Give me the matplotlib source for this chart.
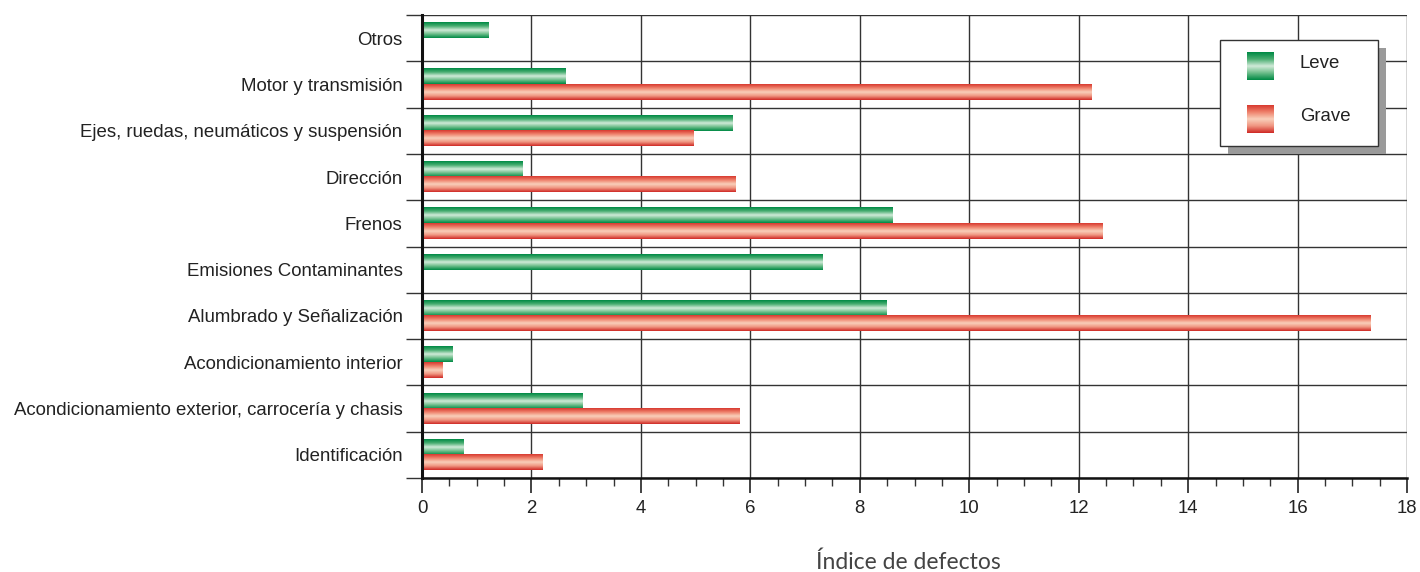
# Índice de defectos por categoría (leve / grave)

import matplotlib.pyplot as plt
import numpy as np
from matplotlib.colors import LinearSegmentedColormap
from matplotlib.patches import Rectangle

categorias = ['Otros', 'Motor y transmisión', 'Ejes, ruedas, neumáticos y suspensión',
              'Dirección', 'Frenos', 'Emisiones Contaminantes', 'Alumbrado y Señalización',
              'Acondicionamiento interior', 'Acondicionamiento exterior, carrocería y chasis',
              'Identificación']
leve = [1.22, 2.63, 5.67, 1.83, 8.59, 7.31, 8.48, 0.55, 2.94, 0.75]
grave = [0, 12.23, 4.97, 5.72, 12.43, 0, 17.33, 0.37, 5.80, 2.21]
series_labels = ['Leve', 'Grave']

plt.rcParams['font.family'] = ['Liberation Sans', 'DejaVu Sans']

# cylinder-like shading: dark edges, light middle
cmap_leve = LinearSegmentedColormap.from_list(
    'leve', ['#008a45', '#4aae72', '#d2ebd9', '#6cbd8a', '#008a45'])
cmap_grave = LinearSegmentedColormap.from_list(
    'grave', ['#d83a30', '#ef826c', '#f9d0bb', '#f09580', '#cf2a26'])
grad = np.linspace(0, 1, 64).reshape(-1, 1)

fig = plt.figure(figsize=(14.2, 5.72), dpi=100)
ax = fig.add_axes([0.2972, 0.1643, 0.6937, 0.8095])

h = 0.33
y = np.arange(len(categorias))
for i in y:
    for val, cmap, off in ((leve[i], cmap_leve, -h), (grave[i], cmap_grave, 0)):
        if val > 0:
            ax.imshow(grad, cmap=cmap, aspect='auto', interpolation='bilinear',
                      extent=(0, val, i + off + h, i + off), zorder=2)

ax.set_xlim(0, 18)
ax.set_ylim(len(categorias) - 0.5, -0.5)

ax.set_yticks(y)
ax.set_yticklabels(categorias, fontsize=13.4, color='#222222')
ax.set_yticks(np.arange(len(categorias) + 1) - 0.5, minor=True)
ax.tick_params(axis='y', which='major', length=0, pad=14)
ax.tick_params(axis='y', which='minor', length=11.5, width=1, color='#333333')

ax.set_xticks(np.arange(0, 19, 2))
ax.set_xticks(np.arange(0, 18.01, 0.5), minor=True)
ax.tick_params(axis='x', which='major', length=11, width=1.2, color='#222222',
               labelsize=13.4, labelcolor='#222222', pad=5)
ax.tick_params(axis='x', which='minor', length=6, width=1, color='#333333')

ax.grid(which='minor', axis='y', color='#333333', linewidth=1, zorder=1)
ax.grid(which='major', axis='x', color='#333333', linewidth=1, zorder=1)
ax.set_axisbelow(True)

for s in ('top', 'right'):
    ax.spines[s].set_visible(False)
ax.spines['left'].set_linewidth(2.2)
ax.spines['left'].set_color('#111111')
ax.spines['bottom'].set_linewidth(1.8)
ax.spines['bottom'].set_color('#111111')

fig.text(0.6398, 0.0175, 'Índice de defectos', fontsize=16.5, color='#444444',
         family=['Lato', 'DejaVu Sans'], ha='center', va='center')

# legend box with drop shadow
ax.add_patch(Rectangle((0.8181, 0.6997), 0.1605, 0.229, transform=ax.transAxes,
                       facecolor='#9a9a9a', edgecolor='none', zorder=5, clip_on=False))
ax.add_patch(Rectangle((0.810, 0.717), 0.1605, 0.229, transform=ax.transAxes,
                       facecolor='white', edgecolor='#333333', linewidth=1, zorder=6,
                       clip_on=False))
for (y0, y1), cmap, lab, ty in (((0.860, 0.920), cmap_leve, series_labels[0], 0.896),
                                ((0.745, 0.8035), cmap_grave, series_labels[1], 0.780)):
    ax.imshow(grad, cmap=cmap, aspect='auto', interpolation='bilinear',
              extent=(0.8376, 0.865, y0, y1), transform=ax.transAxes, zorder=7)
    ax.text(0.891, ty, lab, transform=ax.transAxes, fontsize=13.4, color='#222222',
            va='center', ha='left', zorder=7)

ax.set_xlim(0, 18)
ax.set_ylim(len(categorias) - 0.5, -0.5)

fig.savefig('out.png', dpi=100)
